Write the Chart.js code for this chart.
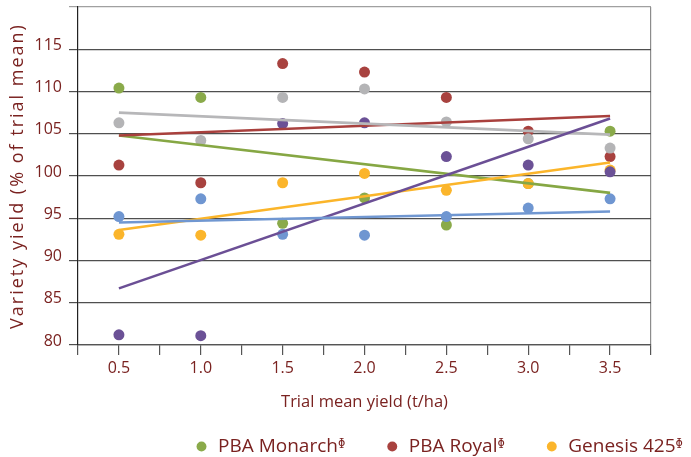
<!DOCTYPE html>
<html>
<head>
<meta charset="utf-8">
<script src="https://cdn.jsdelivr.net/npm/chart.js@4"></script>
<style>
  html, body { margin: 0; padding: 0; background: #fff; }
</style>
</head>
<body>
<canvas id="yieldChart" width="691" height="457"></canvas>
<script>
// trial mean yield (t/ha) - x positions of the points
const trialYields = [0.5, 1.0, 1.5, 2.0, 2.5, 3.0, 3.5];
const yTickValues = [80, 85, 90, 95, 100, 105, 110, 115];

// variety yield (% of trial mean), one value per trial yield
const monarchYield = [110.4, 109.3, 94.4, 97.4, 94.2, 99.1, 105.3];
const royalYield = [101.3, 99.2, 113.3, 112.3, 109.3, 105.3, 102.3];
const genesis425Yield = [93.1, 93.0, 99.2, 100.3, 98.3, 99.1, 100.7];
const greyYield = [106.3, 104.2, 109.3, 110.3, 106.4, 104.4, 103.3];
const purpleYield = [81.2, 81.1, 106.2, 106.3, 102.3, 101.3, 100.5];
const blueYield = [95.2, 97.3, 93.1, 93.0, 95.2, 96.2, 97.3];

// trend lines, value at 0.5 and at 3.5 t/ha
const trendX = [0.5, 3.5];
const monarchTrend = [104.8, 98.0];
const royalTrend = [104.8, 107.1];
const genesis425Trend = [93.6, 101.6];
const greyTrend = [107.5, 104.9];
const purpleTrend = [86.7, 106.8];
const blueTrend = [94.5, 95.8];

const seriesNames = ["PBA Monarch\u1DB2", "PBA Royal\u1DB2", "Genesis 425\u1DB2", "Variety 4", "Variety 5", "Variety 6"];

const textColor = "#7a2220";
const fontFamily = "'Open Sans', 'DejaVu Sans', sans-serif";

const series = [
  { values: monarchYield, trend: monarchTrend, point: "#8aaa4a", line: "#86a744" },
  { values: royalYield, trend: royalTrend, point: "#a8423f", line: "#a9403d" },
  { values: genesis425Yield, trend: genesis425Trend, point: "#fbb52b", line: "#fbb52a" },
  { values: greyYield, trend: greyTrend, point: "#b4b4b6", line: "#b7b7b9" },
  { values: purpleYield, trend: purpleTrend, point: "#6b5196", line: "#6b4f95" },
  { values: blueYield, trend: blueTrend, point: "#6f96d1", line: "#7097d1" },
];

// point datasets first (legend uses the first three), trend lines drawn on top
const pointSets = series.map((s, i) => ({
  type: "scatter",
  label: seriesNames[i],
  data: trialYields.map((x, j) => ({ x: x, y: s.values[j] })),
  backgroundColor: s.point,
  borderColor: s.point,
  borderWidth: 0,
  pointRadius: 5.5,
  pointStyle: "circle",
  order: 20 - i,
}));

const trendSets = series.map((s, i) => ({
  type: "line",
  label: seriesNames[i] + " trend",
  data: trendX.map((x, j) => ({ x: x, y: s.trend[j] })),
  borderColor: s.line,
  borderWidth: 2.6,
  pointRadius: 0,
  fill: false,
  order: 6 - i,
}));

// legend sits right of centre in the original figure; y title is letter-spaced
const layoutTweaks = {
  id: "layoutTweaks",
  afterLayout(chart) {
    const lg = chart.legend;
    lg.left = 155;
    lg.right = 900;
    lg.top = 397.5;

    const yScale = chart.scales.y;
    if (!yScale._spacedTitle) {
      const drawTitle = yScale.drawTitle;
      yScale.drawTitle = function () {
        const ctx = this.ctx;
        ctx.save();
        ctx.letterSpacing = "2px";
        drawTitle.apply(this, arguments);
        ctx.restore();
      };
      yScale._spacedTitle = true;
    }
  },
};

new Chart(document.getElementById("yieldChart"), {
  type: "scatter",
  data: { datasets: pointSets.concat(trendSets) },
  plugins: [layoutTweaks],
  options: {
    responsive: false,
    animation: false,
    devicePixelRatio: 1,
    layout: { padding: { top: 7, left: 0, right: 40, bottom: -31.5 } },
    plugins: {
      tooltip: { enabled: false },
      legend: {
        position: "bottom",
        align: "start",
        labels: {
          usePointStyle: true,
          boxWidth: 14,
          boxHeight: 7,
          padding: 39.5,
          color: textColor,
          font: { family: fontFamily, size: 19 },
          filter: (item) => item.datasetIndex < 3,
          sort: (a, b) => a.datasetIndex - b.datasetIndex,
        },
      },
    },
    scales: {
      x: {
        type: "linear",
        min: 0.25,
        max: 3.75,
        afterFit: (scale) => {
          scale.height = 75;
          scale.paddingLeft = 0;
          scale.paddingRight = 0;
        },
        afterBuildTicks: (scale) => {
          const ticks = [];
          for (let v = 0.25; v <= 3.751; v += 0.25) ticks.push({ value: Math.round(v * 100) / 100 });
          scale.ticks = ticks;
        },
        ticks: {
          autoSkip: false,
          maxRotation: 0,
          padding: 4,
          color: textColor,
          font: { family: fontFamily, size: 16 },
          callback: (v) => (trialYields.includes(v) ? v.toFixed(1) : ""),
        },
        grid: {
          drawOnChartArea: true,
          color: (ctx) => (ctx.tick && ctx.tick.value === 3.75 ? "#8c8c8c" : "rgba(0,0,0,0)"),
          tickColor: "#555",
          tickLength: 10,
          lineWidth: 1.2,
        },
        border: { color: "#555", width: 1.2 },
        title: {
          display: true,
          text: "Trial mean yield (t/ha)",
          color: textColor,
          font: { family: fontFamily, size: 16.5 },
          padding: { top: 0, bottom: 8 },
        },
      },
      y: {
        min: 80,
        max: 120,
        afterFit: (scale) => {
          scale.width = 78;
          scale.paddingTop = 0;
          scale.paddingBottom = 0;
        },
        afterBuildTicks: (scale) => {
          scale.ticks = yTickValues.concat([120]).map((v) => ({ value: v }));
        },
        ticks: {
          padding: 7,
          labelOffset: -4,
          color: textColor,
          font: { family: fontFamily, size: 16 },
          callback: (v) => (yTickValues.includes(v) ? String(v) : ""),
        },
        grid: {
          color: (ctx) => (ctx.tick && ctx.tick.value === 120 ? "#a0a0a0" : "#4f4f4f"),
          tickLength: 9,
          lineWidth: 1.2,
        },
        border: { color: "#222", width: 1.2 },
        title: {
          display: true,
          text: "Variety yield (% of trial mean)",
          color: textColor,
          font: { family: fontFamily, size: 18 },
          padding: { top: 7, bottom: 0 },
        },
      },
    },
  },
});
</script>
</body>
</html>
